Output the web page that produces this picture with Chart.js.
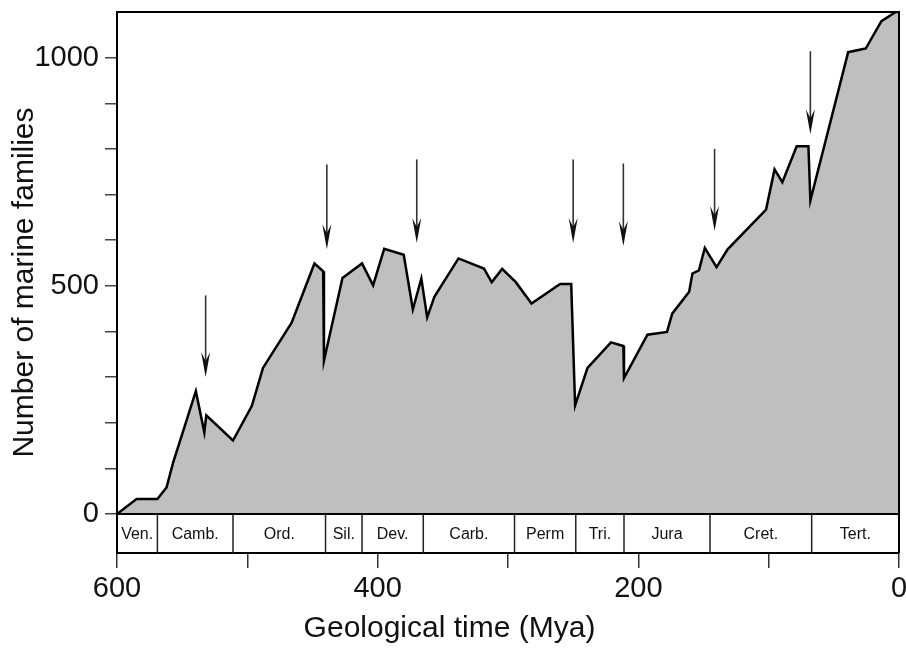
<!DOCTYPE html>
<html lang="en">
<head>
    <meta charset="UTF-8">
    <title>Marine families through time</title>
    <script src="https://cdn.jsdelivr.net/npm/chart.js@4.4.0/dist/chart.umd.min.js"></script>
    <style>
        body { margin: 0; background: #fff; }
    </style>
</head>
<body>
    <canvas id="families_chart" width="906" height="655"></canvas>
    <script>
// ages (Mya) and number of marine families along the curve
var ageMya = [600, 585, 569, 562, 557, 539.5, 533, 531.5, 511, 496.5, 488, 466, 448.5, 441.8, 441.2, 427, 412,
    403.5, 395, 380, 373, 366.5, 362, 356.5, 338, 318.5, 312.5, 304.5, 294, 282, 260, 251.5, 248.5, 239, 221,
    211.5, 211, 193, 178, 174, 161, 158.5, 153.5, 149, 140, 131.5, 102, 95.5, 89.5, 78.5, 69.5, 68, 39, 25.5,
    13.5, 2.5, 0];
var families = [0, 33, 33, 58, 112, 269, 179, 216, 161, 237, 320, 419, 549, 532, 336, 517, 549,
    501, 581, 568, 448, 516, 431, 476, 560, 538, 508, 537, 508, 461, 504, 504, 238, 320, 376,
    368, 298, 393, 399, 439, 487, 527, 534, 583, 541, 580, 667, 755, 727, 806, 806, 687, 1012, 1020,
    1080, 1100, 1100];

// geological periods (boundaries in Mya, oldest first)
var periodNames = ['Ven.', 'Camb.', 'Ord.', 'Sil.', 'Dev.', 'Carb.', 'Perm', 'Tri.', 'Jura', 'Cret.', 'Tert.'];
var periodBounds = [600, 569, 511, 440, 412, 365, 295, 248, 211, 145, 67, 0];

// extinction arrows: age, top and tip (in families)
var arrowAge = [532, 439, 370, 250, 211.5, 141.5, 68];
var arrowTop = [479, 766, 777, 777, 768, 800, 1014];
var arrowTip = [300, 580, 594, 594, 587, 620, 832];

var xTickValues = [0, 100, 200, 300, 400, 500, 600];
var xLabelled = [0, 200, 400, 600];
var yTickValues = [0, 100, 200, 300, 400, 500, 600, 700, 800, 900, 1000];
var yLabelled = [0, 500, 1000];

var points = [];
for (var i = 0; i < ageMya.length; i++) {
    points.push({x: ageMya[i], y: families[i]});
}

var fontName = "'Liberation Sans', Arial, Helvetica, sans-serif";

// frame, period band and arrows
var extrasPlugin = {
    id: 'extras',
    afterDatasetsDraw: function(chart) {
        var ctx = chart.ctx;
        var area = chart.chartArea;
        var xs = chart.scales.x;
        var ys = chart.scales.y;
        var y0 = ys.getPixelForValue(0);
        ctx.save();

        // band top line
        ctx.strokeStyle = '#000';
        ctx.lineWidth = 2;
        ctx.beginPath();
        ctx.moveTo(area.left, y0);
        ctx.lineTo(area.right, y0);
        ctx.stroke();

        // period dividers and names
        ctx.strokeStyle = '#222';
        ctx.lineWidth = 1.5;
        ctx.fillStyle = '#111';
        ctx.font = '16px ' + fontName;
        ctx.textAlign = 'center';
        ctx.textBaseline = 'middle';
        for (var p = 0; p < periodNames.length; p++) {
            var xa = xs.getPixelForValue(periodBounds[p]);
            var xb = xs.getPixelForValue(periodBounds[p + 1]);
            if (p > 0) {
                ctx.beginPath();
                ctx.moveTo(xa, y0);
                ctx.lineTo(xa, area.bottom);
                ctx.stroke();
            }
            ctx.fillText(periodNames[p], (xa + xb) / 2, (y0 + area.bottom) / 2 + 1);
        }

        // arrows
        ctx.strokeStyle = '#333';
        ctx.fillStyle = '#111';
        ctx.lineWidth = 1.6;
        for (var a = 0; a < arrowAge.length; a++) {
            var ax = xs.getPixelForValue(arrowAge[a]);
            var top = ys.getPixelForValue(arrowTop[a]);
            var tip = ys.getPixelForValue(arrowTip[a]);
            ctx.beginPath();
            ctx.moveTo(ax, top);
            ctx.lineTo(ax, tip - 12);
            ctx.stroke();
            ctx.beginPath();
            ctx.moveTo(ax, tip);
            ctx.lineTo(ax - 4.5, tip - 25);
            ctx.lineTo(ax, tip - 16);
            ctx.lineTo(ax + 4.5, tip - 25);
            ctx.closePath();
            ctx.fill();
        }

        // top and right frame
        ctx.strokeStyle = '#000';
        ctx.lineWidth = 2;
        ctx.beginPath();
        ctx.moveTo(area.left, area.top);
        ctx.lineTo(area.right, area.top);
        ctx.lineTo(area.right, area.bottom);
        ctx.stroke();
        ctx.restore();
    }
};

var ctx = document.getElementById('families_chart').getContext('2d');
var chart = new Chart(ctx, {
    type: 'line',
    data: {
        datasets: [{
            label: 'Marine families',
            data: points,
            borderColor: '#000',
            borderWidth: 2.5,
            backgroundColor: '#bfbfbf',
            fill: 'origin',
            tension: 0,
            pointRadius: 0
        }]
    },
    options: {
        responsive: false,
        animation: false,
        layout: {padding: {left: 0, right: 7, top: 12, bottom: 0}},
        plugins: {
            legend: {display: false},
            tooltip: {enabled: false},
            title: {
                display: true,
                position: 'bottom',
                text: 'Geological time (Mya)',
                color: '#111',
                font: {family: fontName, size: 30, weight: 'normal'},
                padding: {top: 0, bottom: 8}
            }
        },
        scales: {
            x: {
                type: 'linear',
                reverse: true,
                min: 0,
                max: 600,
                afterBuildTicks: function(scale) {
                    scale.ticks = xTickValues.map(function(v) { return {value: v}; });
                },
                afterFit: function(scale) { scale.height = 58; },
                grid: {drawOnChartArea: false, tickLength: 15, color: '#333', lineWidth: 1.5},
                border: {display: true, color: '#000', width: 2},
                ticks: {
                    autoSkip: false,
                    maxRotation: 0,
                    padding: 4,
                    color: '#111',
                    font: {family: fontName, size: 29},
                    callback: function(v) { return xLabelled.indexOf(v) >= 0 ? String(v) : ''; }
                }
            },
            y: {
                min: -85.5,
                max: 1100,
                afterBuildTicks: function(scale) {
                    scale.ticks = yTickValues.map(function(v) { return {value: v}; });
                },
                afterFit: function(scale) {
                    scale.width = 117;
                    scale.paddingTop = 0;
                    scale.paddingBottom = 0;
                },
                grid: {drawOnChartArea: false, tickLength: 12, color: '#444', lineWidth: 1.5},
                border: {display: true, color: '#000', width: 2},
                title: {
                    display: true,
                    text: 'Number of marine families',
                    color: '#111',
                    font: {family: fontName, size: 30, weight: 'normal'},
                    padding: {top: 7, bottom: 0}
                },
                ticks: {
                    autoSkip: false,
                    padding: 6,
                    color: '#111',
                    font: {family: fontName, size: 29},
                    callback: function(v) { return yLabelled.indexOf(v) >= 0 ? String(v) : ''; }
                }
            }
        }
    },
    plugins: [extrasPlugin]
});
    </script>
</body>
</html>
